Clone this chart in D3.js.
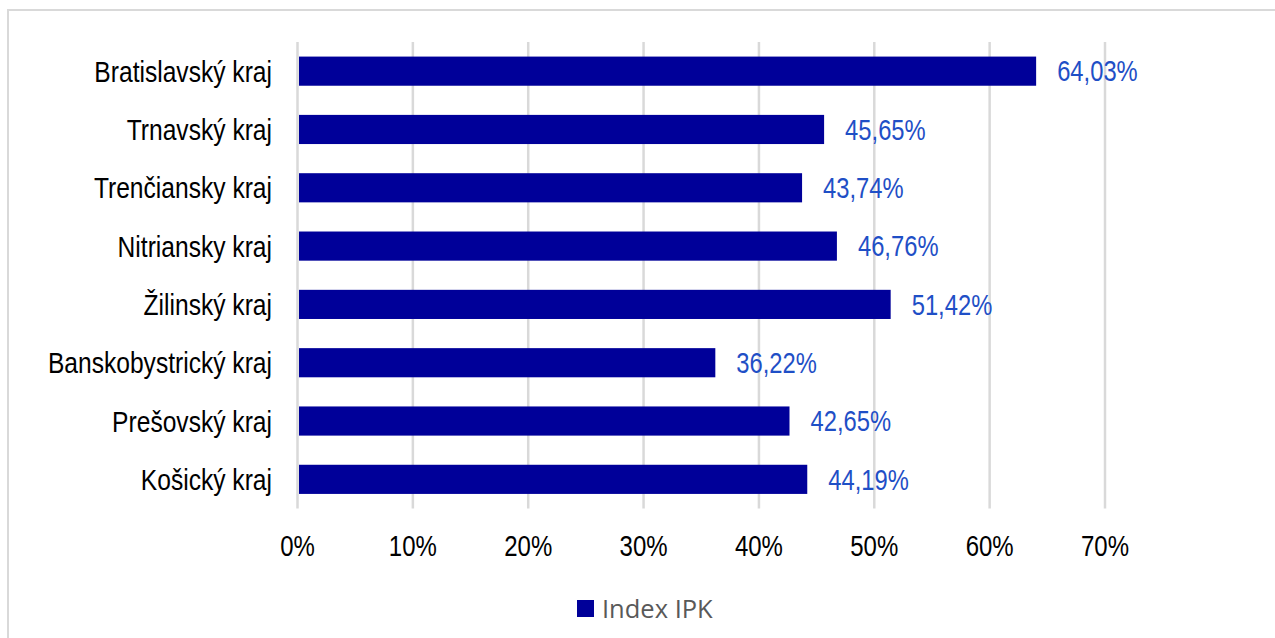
<!DOCTYPE html>
<html>
<head>
<meta charset="utf-8">
<script src="https://cdn.jsdelivr.net/npm/d3@7"></script>
<style>
  body { margin: 0; background: #fff; }
  svg { display: block; }
</style>
</head>
<body>
<div id="chart"></div>
<script>
// data
const regions = ['Bratislavský kraj', 'Trnavský kraj', 'Trenčiansky kraj', 'Nitriansky kraj',
  'Žilinský kraj', 'Banskobystrický kraj', 'Prešovský kraj', 'Košický kraj'];
const indexIPK = [64.03, 45.65, 43.74, 46.76, 51.42, 36.22, 42.65, 44.19];
const xTicks = [0, 10, 20, 30, 40, 50, 60, 70];
const seriesName = 'Index IPK';

const width = 1275, height = 638;
const barColor = '#000099';
const labelColor = '#1f4fc6';
const gridColor = '#d9d9d9';

const svg = d3.select('#chart').append('svg')
    .attr('width', width)
    .attr('height', height);

// chart area border (runs off the right and bottom edge)
svg.append('rect')
    .attr('x', 8).attr('y', 10)
    .attr('width', 1300).attr('height', 700)
    .attr('fill', 'none')
    .attr('stroke', gridColor)
    .attr('stroke-width', 2);

const x = d3.scaleLinear().domain([0, 70]).range([297.5, 1105]);
const y = d3.scaleBand().domain(regions).range([42, 508.5])
    .paddingInner(0.5)
    .paddingOuter(0.25);

// vertical gridlines
svg.append('g').selectAll('line')
  .data(xTicks)
  .join('line')
    .attr('x1', d => x(d)).attr('x2', d => x(d))
    .attr('y1', 42).attr('y2', 508.5)
    .attr('stroke', gridColor)
    .attr('stroke-width', 2.5);

// x tick labels (narrow Arial look -> squeeze horizontally)
svg.append('g').selectAll('g')
  .data(xTicks)
  .join('g')
    .attr('transform', d => `translate(${x(d)},556) scale(0.8,1)`)
  .append('text')
    .attr('text-anchor', 'middle')
    .style('font-family', '"Liberation Sans", Arial, sans-serif')
    .style('font-size', '30px')
    .attr('fill', '#000')
    .text(d => d + '%');

// category labels
svg.append('g').selectAll('g')
  .data(regions)
  .join('g')
    .attr('transform', d => `translate(272,${y(d) + y.bandwidth() / 2}) scale(0.82,1)`)
  .append('text')
    .attr('text-anchor', 'end')
    .attr('dy', '0.35em')
    .style('font-family', '"Liberation Sans", Arial, sans-serif')
    .style('font-size', '30px')
    .attr('fill', '#000')
    .text(d => d);

// bars
svg.append('g').selectAll('rect')
  .data(indexIPK)
  .join('rect')
    .attr('x', x(0) + 1.5)
    .attr('y', (d, i) => y(regions[i]))
    .attr('width', d => x(d) - x(0) - 1.5)
    .attr('height', y.bandwidth())
    .attr('fill', barColor);

// value labels
const fmt = v => v.toFixed(2).replace('.', ',') + '%';
svg.append('g').selectAll('g')
  .data(indexIPK)
  .join('g')
    .attr('transform', (d, i) => `translate(${x(d) + 21},${y(regions[i]) + y.bandwidth() / 2}) scale(0.82,1)`)
  .append('text')
    .attr('dy', '0.35em')
    .style('font-family', '"Liberation Sans", Arial, sans-serif')
    .style('font-size', '29px')
    .attr('fill', labelColor)
    .text(d => fmt(d));

// legend
const legend = svg.append('g').attr('transform', 'translate(577,600)');
legend.append('rect')
    .attr('width', 17).attr('height', 17)
    .attr('fill', barColor);
legend.append('text')
    .attr('x', 25).attr('y', 18)
    .style('font-family', '"Open Sans", sans-serif')
    .style('font-size', '25.5px')
    .attr('fill', '#595959')
    .text(seriesName);
</script>
</body>
</html>
